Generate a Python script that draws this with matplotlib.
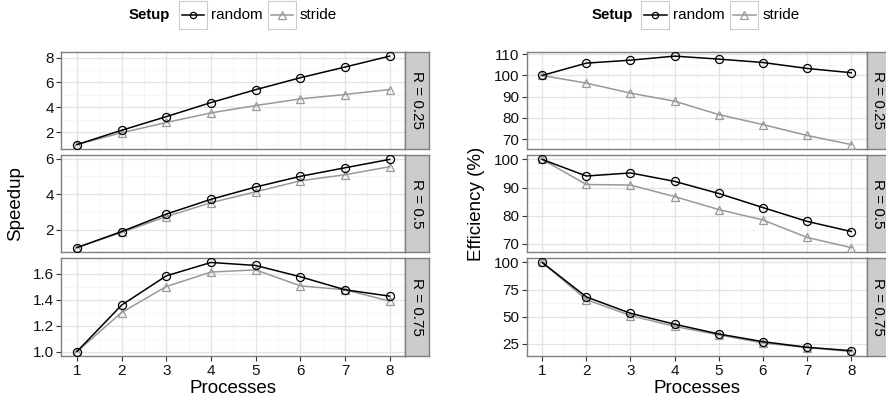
import numpy as np
import matplotlib
matplotlib.use("Agg")
import matplotlib.pyplot as plt
from matplotlib.ticker import FixedLocator, MultipleLocator, FormatStrFormatter

plt.rcParams['font.family'] = ['Liberation Sans', 'DejaVu Sans']

# data
procs = [1, 2, 3, 4, 5, 6, 7, 8]
ratios = ["0.25", "0.5", "0.75"]

speedup_random = [
    [1.0, 2.15, 3.25, 4.38, 5.42, 6.38, 7.24, 8.12],
    [1.0, 1.90, 2.88, 3.71, 4.40, 5.00, 5.48, 5.95],
    [1.0, 1.357, 1.582, 1.685, 1.662, 1.575, 1.475, 1.426],
]
speedup_stride = [
    [1.0, 1.95, 2.78, 3.55, 4.14, 4.68, 5.03, 5.43],
    [1.0, 1.85, 2.74, 3.52, 4.13, 4.75, 5.09, 5.54],
    [1.0, 1.30, 1.50, 1.611, 1.628, 1.505, 1.475, 1.388],
]
eff_random = [
    [100, 105.8, 107.2, 109.1, 107.7, 106.1, 103.3, 101.3],
    [100, 94.1, 95.2, 92.2, 87.9, 82.9, 78.0, 74.4],
    [100, 68.2, 53.1, 43.0, 34.0, 26.9, 21.7, 18.6],
]
eff_stride = [
    [100, 96.4, 91.7, 87.9, 81.6, 76.9, 71.8, 67.5],
    [100, 91.1, 90.9, 86.8, 82.2, 78.5, 72.3, 68.7],
    [100, 65.7, 51.0, 41.0, 33.2, 25.7, 21.5, 17.8],
]

speedup_ticks = [[2, 4, 6, 8], [2, 4, 6], [1.0, 1.2, 1.4, 1.6]]
eff_ticks = [[70, 80, 90, 100, 110], [70, 80, 90, 100], [25, 50, 75, 100]]

W, H = 887, 400
fig = plt.figure(figsize=(W / 100, H / 100), dpi=100)

GREY50 = "#7f7f7f"
rows_px = [(51.7, 149.0), (155.0, 252.0), (258.0, 356.0)]


def px_axes(x0, x1, y0, y1):
    return fig.add_axes([x0 / W, 1 - y1 / H, (x1 - x0) / W, (y1 - y0) / H])


def facet_chart(x0, x1, rand, strd, ticks, ylabel, fmt, legend_cx, ylab_x):
    for i in range(3):
        y0, y1 = rows_px[i]
        ax = px_axes(x0, x1, y0, y1)
        ax.plot(procs, strd[i], color="#999999", lw=1.1, marker="^",
                ms=6.3, mfc="none", mec="#999999", mew=0.9, zorder=3)
        ax.plot(procs, rand[i], color="black", lw=1.1, marker="o",
                ms=5.8, mfc="none", mec="black", mew=0.9, zorder=4)
        lo = min(min(rand[i]), min(strd[i]))
        hi = max(max(rand[i]), max(strd[i]))
        pad = (hi - lo) * 0.05
        ax.set_ylim(lo - pad, hi + pad)
        ax.set_xlim(0.65, 8.35)
        t = ticks[i]
        step = t[1] - t[0]
        ax.yaxis.set_major_locator(FixedLocator(t))
        ax.yaxis.set_minor_locator(MultipleLocator(step / 2))
        ax.yaxis.set_major_formatter(FormatStrFormatter(fmt[i]))
        ax.xaxis.set_major_locator(FixedLocator(procs))
        ax.xaxis.set_minor_locator(MultipleLocator(0.5))
        ax.grid(which="minor", color="#f4f4f4", lw=0.6, zorder=0)
        ax.grid(which="major", color="#e3e3e3", lw=0.9, zorder=1)
        ax.set_axisbelow(True)
        for s in ax.spines.values():
            s.set_color(GREY50)
            s.set_linewidth(1.0)
        ax.tick_params(which="major", length=3.5, width=0.8, color="#333333",
                       labelsize=11, pad=2, labelcolor="#111111")
        ax.tick_params(which="minor", length=0)
        if i < 2:
            ax.tick_params(axis="x", labelbottom=False, length=0)
        else:
            ax.set_xlabel("Processes", fontsize=13.5, labelpad=1.5)

        # facet strip
        sx = px_axes(x1, x1 + 23.4, y0, y1)
        sx.set_facecolor("#cccccc")
        sx.set_xticks([])
        sx.set_yticks([])
        for s in sx.spines.values():
            s.set_color(GREY50)
            s.set_linewidth(1.0)
        sx.text(0.5, 0.5, "R = " + ratios[i], rotation=-90, ha="center",
                va="center", fontsize=11, transform=sx.transAxes)

    fig.text(ylab_x / W, 1 - 204 / H, ylabel, rotation=90, ha="center",
             va="center", fontsize=13.5)

    # legend
    ly0, ly1 = 1.0, 28.7
    lx = legend_cx - 104.5
    fig.text(lx / W, 1 - 15 / H, "Setup", fontweight="bold", fontsize=10.8,
             ha="left", va="center")
    keys = [("random", "black", "o", 4.5), ("stride", "#999999", "^", 5.5)]
    kx = lx + 50
    for lab, col, mk, msz in keys:
        kax = px_axes(kx, kx + 28, ly0, ly1)
        kax.set_xlim(0, 1)
        kax.set_ylim(0, 1)
        kax.plot([0.1, 0.9], [0.5, 0.5], color=col, lw=1.1)
        kax.plot([0.5], [0.5], color=col, marker=mk, ms=msz, mfc="none",
                 mec=col, mew=0.9)
        kax.set_xticks([])
        kax.set_yticks([])
        for s in kax.spines.values():
            s.set_color("#cccccc")
            s.set_linewidth(0.8)
        fig.text((kx + 32) / W, 1 - 15 / H, lab, fontsize=11, ha="left",
                 va="center")
        kx += 89


facet_chart(61.3, 405.3, speedup_random, speedup_stride, speedup_ticks,
            "Speedup", ["%g", "%g", "%.1f"], 233.5, 16)
facet_chart(526.7, 866.7, eff_random, eff_stride, eff_ticks,
            "Efficiency (%)", ["%g", "%g", "%g"], 696, 477)

fig.savefig("out.png", dpi=100)
